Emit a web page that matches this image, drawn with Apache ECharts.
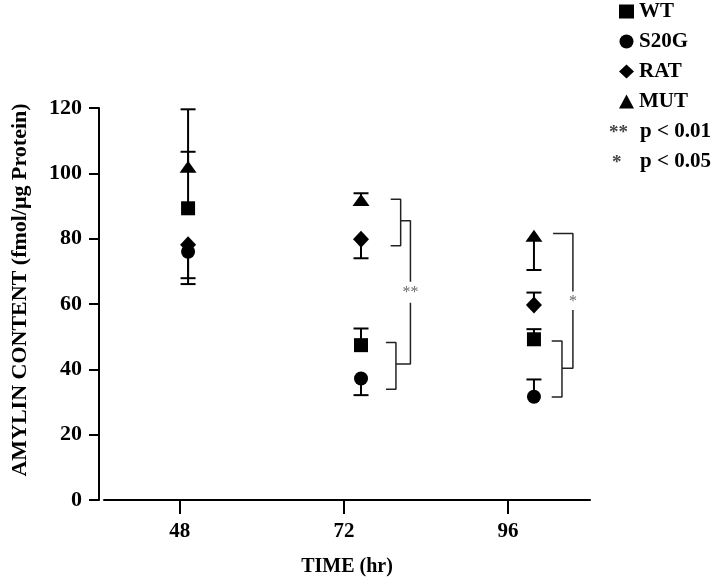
<!DOCTYPE html>
<html>
<head>
<meta charset="utf-8">
<script src="https://cdn.jsdelivr.net/npm/echarts@6/dist/echarts.min.js"></script>
<style>
  html, body { margin: 0; padding: 0; background: #fff; }
  #chart { width: 720px; height: 579px; }
</style>
</head>
<body>
<div id="chart"></div>
<script>
// 时间点（刻度标签）和点在轴上实际画的位置
const timeLabels = [48, 72, 96];
const xPlot = [49.2, 74.5, 99.8];

// 各组均值
const wt = [89.3, 47.4, 49.2];
const s20g = [76.0, 37.2, 31.6];
const rat = [78.1, 79.8, 59.7];
const mut = [102.0, 91.8, 80.9];

// 单侧误差线的端点
const wtErr = [106.6, 52.5, 52.3];
const s20gErr = [66.1, 32.1, 36.9];
const ratErr = [67.9, 74.0, 63.5];
const mutErr = [119.6, 93.9, 70.4];

const FONT = "'Liberation Serif', 'Times New Roman', serif";

// 显著性括号（轴坐标）
const bracketPaths = [
  // 72 h
  [[78.84, 92.1], [80.3, 92.1], [80.3, 77.8], [78.84, 77.8]],
  [[80.3, 85.5], [81.73, 85.5], [81.73, 66.8]],
  [[81.73, 60.4], [81.73, 41.6], [79.61, 41.6]],
  [[78.15, 48.2], [79.61, 48.2], [79.61, 33.9], [78.15, 33.9]],
  // 96 h
  [[102.6, 81.6], [105.5, 81.6], [105.5, 63.8]],
  [[105.5, 58.2], [105.5, 40.3], [103.9, 40.3]],
  [[102.4, 48.7], [103.9, 48.7], [103.9, 31.5], [102.4, 31.5]]
];
const stars = [[81.73, 63.4, '**'], [105.5, 60.8, '*']];

const chart = echarts.init(document.getElementById('chart'));

function pairs(ys) {
  return ys.map((y, i) => [xPlot[i], y]);
}
function errData(ys, ends) {
  return ys.map((y, i) => [xPlot[i], y, ends[i]]);
}

// 误差线：竖线 + 端帽
function renderErr(params, api) {
  const p0 = api.coord([api.value(0), api.value(1)]);
  const p1 = api.coord([api.value(0), api.value(2)]);
  const half = 7.5;
  const style = { stroke: '#000', lineWidth: 2 };
  return {
    type: 'group',
    children: [
      { type: 'line', shape: { x1: p0[0], y1: p0[1], x2: p1[0], y2: p1[1] }, style: style },
      { type: 'line', shape: { x1: p1[0] - half, y1: p1[1], x2: p1[0] + half, y2: p1[1] }, style: style }
    ]
  };
}

function errSeries(ys, ends) {
  return {
    type: 'custom',
    renderItem: renderErr,
    data: errData(ys, ends),
    silent: true,
    z: 1
  };
}

function dotSeries(name, ys, symbol, size) {
  return {
    name: name,
    type: 'scatter',
    data: pairs(ys),
    symbol: symbol,
    symbolSize: size,
    itemStyle: { color: '#000', opacity: 1 },
    z: 3
  };
}

const bracketSeries = bracketPaths.map((path) => ({
  type: 'line',
  data: path,
  symbol: 'none',
  silent: true,
  lineStyle: { color: '#222', width: 1.5 },
  z: 2
}));

const option = {
  animation: false,
  backgroundColor: '#fff',
  grid: { left: 104, right: 130, top: 108, bottom: 79, outerBoundsMode: 'none' },
  xAxis: {
    type: 'value',
    min: 36.9,
    max: 108,
    name: 'TIME (hr)',
    nameLocation: 'middle',
    nameGap: 57,
    nameTextStyle: { fontFamily: FONT, fontWeight: 'bold', fontSize: 20, color: '#000' },
    axisLine: { onZero: false, lineStyle: { color: '#000', width: 2 } },
    axisTick: { customValues: timeLabels, length: 14, lineStyle: { color: '#000', width: 2 } },
    axisLabel: {
      customValues: timeLabels,
      margin: 21,
      fontFamily: FONT, fontWeight: 'bold', fontSize: 21, color: '#000'
    },
    splitLine: { show: false }
  },
  yAxis: {
    type: 'value',
    min: 0,
    max: 120,
    interval: 20,
    offset: 5,
    axisLine: { show: true, lineStyle: { color: '#000', width: 2 } },
    axisTick: { show: true, length: 10, lineStyle: { color: '#000', width: 2 } },
    axisLabel: {
      margin: 17,
      fontFamily: FONT, fontWeight: 'bold', fontSize: 22, color: '#000'
    },
    splitLine: { show: false }
  },
  legend: {
    orient: 'vertical',
    left: 614,
    top: -4,
    itemWidth: 15,
    itemHeight: 14,
    itemGap: 9,
    selectedMode: false,
    data: ['WT', 'S20G', 'RAT', 'MUT'],
    textStyle: { fontFamily: FONT, fontWeight: 'bold', fontSize: 21, color: '#000', lineHeight: 20 }
  },
  graphic: [
    {
      type: 'text',
      x: 20,
      y: 290,
      rotation: Math.PI / 2,
      style: {
        text: 'AMYLIN CONTENT (fmol/μg Protein)',
        font: 'bold 22px ' + FONT,
        fill: '#000',
        align: 'center',
        verticalAlign: 'middle'
      }
    },
    {
      type: 'text', x: 609, y: 133,
      style: { text: '**', font: 'bold 19px ' + FONT, fill: '#444', verticalAlign: 'middle' }
    },
    {
      type: 'text', x: 640, y: 132,
      style: { text: 'p < 0.01', font: 'bold 21px ' + FONT, fill: '#000', verticalAlign: 'middle' }
    },
    {
      type: 'text', x: 612, y: 163,
      style: { text: '*', font: 'bold 19px ' + FONT, fill: '#444', verticalAlign: 'middle' }
    },
    {
      type: 'text', x: 640, y: 162,
      style: { text: 'p < 0.05', font: 'bold 21px ' + FONT, fill: '#000', verticalAlign: 'middle' }
    }
  ],
  series: [
    errSeries(wt, wtErr),
    errSeries(s20g, s20gErr),
    errSeries(rat, ratErr),
    errSeries(mut, mutErr),
    dotSeries('WT', wt, 'rect', 14),
    dotSeries('S20G', s20g, 'circle', 14),
    dotSeries('RAT', rat, 'diamond', [16, 17]),
    dotSeries('MUT', mut, 'triangle', [17, 12]),
    ...bracketSeries,
    {
      type: 'scatter',
      data: stars.map((s) => [s[0], s[1]]),
      symbolSize: 0,
      silent: true,
      label: {
        show: true,
        position: 'inside',
        formatter: (p) => stars[p.dataIndex][2],
        fontFamily: FONT,
        fontSize: 16,
        color: '#444'
      },
      z: 2
    }
  ]
};

chart.setOption(option);
window.addEventListener('resize', () => chart.resize());
</script>
</body>
</html>
